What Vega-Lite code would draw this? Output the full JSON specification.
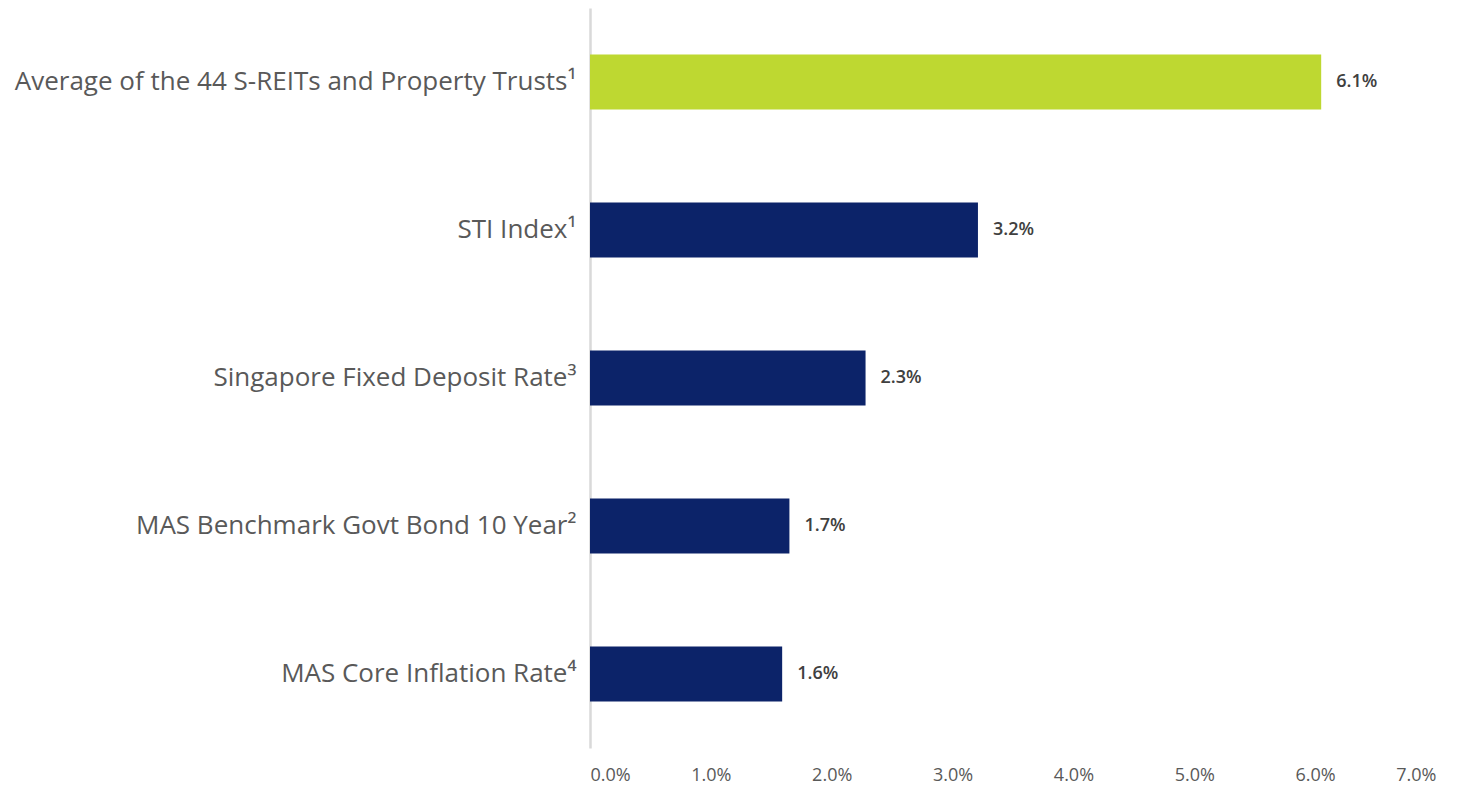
{
  "$schema": "https://vega.github.io/schema/vega-lite/v6.json",
  "width": 846,
  "height": 740,
  "autosize": {"type": "none"},
  "padding": {"left": 590, "top": 8, "right": 25, "bottom": 45},
  "background": "white",
  "config": {"view": {"stroke": null}, "font": "Open Sans"},
  "data": {
    "values": [
      {"category": "Average of the 44 S-REITs and Property Trusts¹", "value": 6.05, "label": "6.1%", "group": "reit"},
      {"category": "STI Index¹", "value": 3.21, "label": "3.2%", "group": "other"},
      {"category": "Singapore Fixed Deposit Rate³", "value": 2.28, "label": "2.3%", "group": "other"},
      {"category": "MAS Benchmark Govt Bond 10 Year²", "value": 1.65, "label": "1.7%", "group": "other"},
      {"category": "MAS Core Inflation Rate⁴", "value": 1.59, "label": "1.6%", "group": "other"}
    ]
  },
  "encoding": {
    "y": {
      "field": "category",
      "type": "nominal",
      "sort": null,
      "title": null,
      "scale": {"paddingInner": 0.63, "paddingOuter": 0.315},
      "axis": {
        "domain": true,
        "domainColor": "#d9d9d9",
        "domainWidth": 2.5,
        "ticks": false,
        "labelFontSize": 26,
        "labelColor": "#595959",
        "labelPadding": 14,
        "labelFont": "Open Sans",
        "labelLimit": 600
      }
    },
    "x": {
      "field": "value",
      "type": "quantitative",
      "title": null,
      "scale": {"domain": [0, 7], "nice": false},
      "axis": {
        "values": [0, 1, 2, 3, 4, 5, 6, 7],
        "labelExpr": "format(datum.value, '.1f') + '%'",
        "domain": false,
        "ticks": false,
        "grid": false,
        "labelFontSize": 18,
        "labelColor": "#595959",
        "labelPadding": 18,
        "labelFont": "Open Sans"
      }
    }
  },
  "layer": [
    {
      "mark": {"type": "bar"},
      "encoding": {
        "color": {
          "field": "group",
          "type": "nominal",
          "scale": {"domain": ["reit", "other"], "range": ["#bed831", "#0c2369"]},
          "legend": null
        }
      }
    },
    {
      "mark": {"type": "text", "align": "left", "baseline": "middle", "dx": 15, "fontSize": 18, "fontWeight": 600, "color": "#404040", "font": "Open Sans"},
      "encoding": {"text": {"field": "label"}}
    }
  ]
}
